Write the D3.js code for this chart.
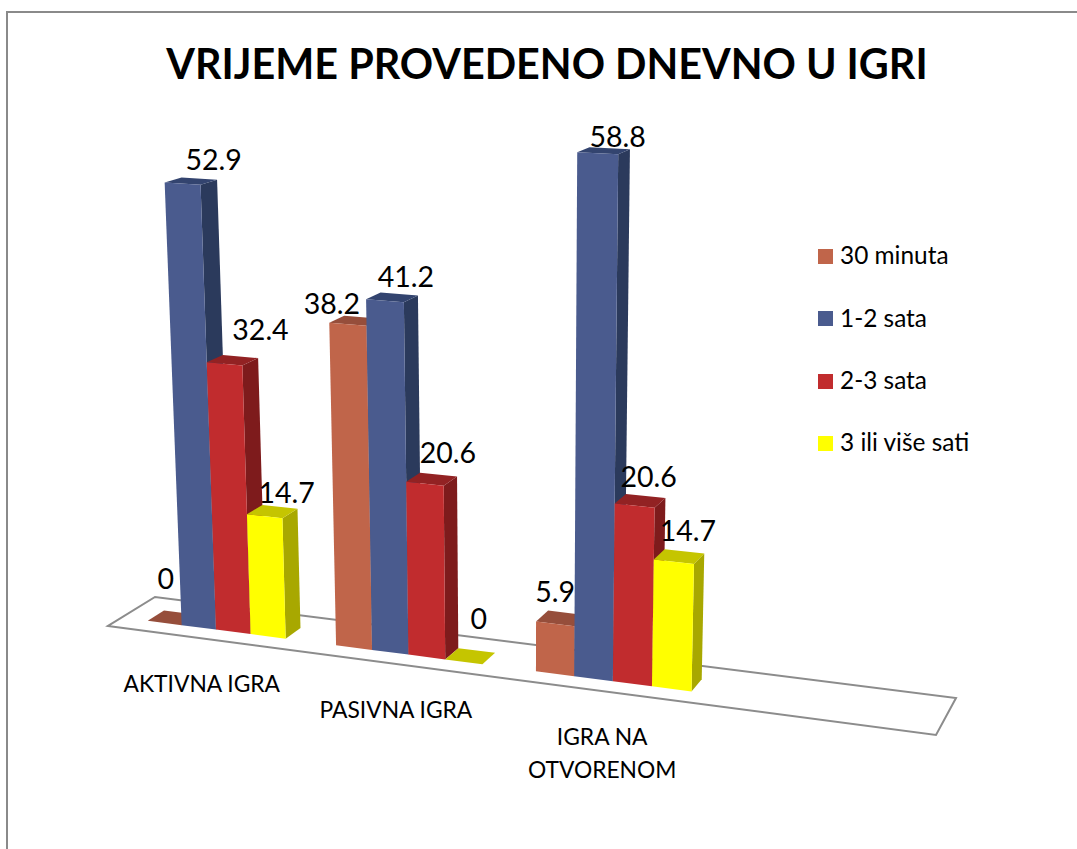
<!DOCTYPE html>
<html><head><meta charset="utf-8">
<script src="https://d3js.org/d3.v7.min.js"></script>
<style>html,body{margin:0;padding:0;background:#fff}svg{display:block}</style>
</head><body><svg id="c" width="1077" height="849"></svg>
<script>
const titleText = "VRIJEME PROVEDENO DNEVNO U IGRI";
const categories = ["AKTIVNA IGRA", "PASIVNA IGRA", "IGRA NA OTVORENOM", ""];
const seriesNames = ["30 minuta", "1-2 sata", "2-3 sata", "3 ili više sati"];
const values30min = [0, 38.2, 5.9];
const values1to2 = [52.9, 41.2, 58.8];
const values2to3 = [32.4, 20.6, 20.6];
const values3plus = [14.7, 0, 14.7];
const seriesValues = [values30min, values1to2, values2to3, values3plus];

const frontColors = ["#C0654A", "#4A5B8E", "#C12C2E", "#FFFF00"];
const sideColors = ["#8E4B39", "#2B3A5C", "#7E1B1C", "#A8A800"];
const topColors = ["#964E3B", "#33446F", "#922223", "#C5C500"];
const labelFont = "Lato, 'Open Sans', sans-serif";

const svg = d3.select("#c");
svg.append("rect").attr("x", 7).attr("y", 12).attr("width", 1200).attr("height", 1000)
  .attr("fill", "#fff").attr("stroke", "#8a8a8a").attr("stroke-width", 2);

// floor quadrilateral -> perspective projection
const P00 = [108, 626], P10 = [936, 735], P11 = [956, 698], P01 = [155, 597];
const den = (P10[0]-P11[0])*(P01[1]-P11[1]) - (P01[0]-P11[0])*(P10[1]-P11[1]);
const sx = P00[0]-P10[0]+P11[0]-P01[0], sy = P00[1]-P10[1]+P11[1]-P01[1];
const g = (sx*(P01[1]-P11[1]) - (P01[0]-P11[0])*sy)/den;
const h = ((P10[0]-P11[0])*sy - sx*(P10[1]-P11[1]))/den;
const vanish = [523, 9500], persp = -0.000899;
function proj(u, v, val) {
  const w = 1 + g*u + h*v;
  const X = P00[0] + (P10[0]-P00[0]+g*P10[0])*u + (P01[0]-P00[0]+h*P01[0])*v;
  const Y = P00[1] + (P10[1]-P00[1]+g*P10[1])*u + (P01[1]-P00[1]+h*P01[1])*v;
  const k = persp*val;
  return [(X + k*vanish[0])/(w+k), (Y + k*vanish[1])/(w+k)];
}
const xGroup = d3.scaleBand().domain(categories).range([0, 1]);
const xBar = d3.scaleBand().domain(d3.range(seriesNames.length)).range([0, xGroup.bandwidth()]).paddingOuter(0.71).paddingInner(0).align(0.54);
const yVal = d3.scaleLinear().domain([0, 70]).range([0, 70]);
const vFront = 0.29, vBack = 0.64;
const line = d3.line();
const poly = pts => line(pts) + "Z";

const G = svg.append("g");
G.append("path").attr("d", poly([[0,0],[1,0],[1,1],[0,1]].map(c => proj(c[0], c[1], 0))))
  .attr("fill", "#fff").attr("stroke", "#8c8c8c").attr("stroke-width", 2).attr("stroke-linejoin", "miter");

const labelNudge = [
  [[1,-41],[31,-21],[36,-31],[22,-20]],
  [[-16,-17],[21,-21],[23,-28],[15,-40]],
  [[0,-29],[20,-13],[14,-26],[14,-28]]
];
const labels = [];
categories.slice(0, 3).forEach((cat, ci) => {
  seriesNames.forEach((s, si) => {
    const val = seriesValues[si][ci];
    const u0 = xGroup(cat) + xBar(si), u1 = u0 + xBar.bandwidth();
    const z = yVal(val);
    const f = (u, v, t) => proj(u, v, t);
    G.append("path").attr("class", "side").attr("fill", sideColors[si])
      .attr("d", poly([f(u1,vFront,0), f(u1,vBack,0), f(u1,vBack,z), f(u1,vFront,z)]));
    G.append("path").attr("class", "top").attr("fill", topColors[si])
      .attr("d", poly([f(u0,vFront,z), f(u1,vFront,z), f(u1,vBack,z), f(u0,vBack,z)]));
    G.append("path").attr("class", "front").attr("fill", frontColors[si])
      .attr("d", poly([f(u0,vFront,0), f(u1,vFront,0), f(u1,vFront,z), f(u0,vFront,z)]));
    const c = f((u0+u1)/2, vFront, z);
    labels.push({t: String(val), x: c[0]+labelNudge[ci][si][0], y: c[1]+labelNudge[ci][si][1]});
  });
});
svg.selectAll(".dl").data(labels).enter().append("text").attr("class", "dl")
  .attr("x", d => d.x).attr("y", d => d.y).attr("text-anchor", "middle").attr("dominant-baseline", "middle")
  .attr("font-family", labelFont).attr("font-size", 28.5).attr("fill", "#000").text(d => d.t);

// title
svg.append("text").attr("x", 547).attr("y", 79).attr("text-anchor", "middle")
  .attr("font-family", labelFont).attr("font-weight", 700).attr("font-size", 41.3).attr("fill", "#000").text(titleText);

// category labels
const catLines = [["AKTIVNA IGRA"], ["PASIVNA IGRA"], ["IGRA NA", "OTVORENOM"]];
catLines.forEach((ls, i) => {
  const p = proj(xGroup(categories[i]) + xGroup.bandwidth()/2, 0, 0);
  ls.forEach((l, j) => svg.append("text").attr("class", "cat").attr("x", p[0]+1).attr("y", p[1]+48+j*33)
    .attr("text-anchor", "middle").attr("dominant-baseline", "middle")
    .attr("font-family", labelFont).attr("font-size", 22.8).attr("fill", "#000").text(l));
});

// legend
const legY = d3.scalePoint().domain(seriesNames).range([257, 444]);
seriesNames.forEach((s, i) => {
  svg.append("rect").attr("x", 818).attr("y", Math.round(legY(s)-8)).attr("width", 15).attr("height", 15).attr("fill", frontColors[i]);
  svg.append("text").attr("x", 840).attr("y", legY(s)+1).attr("dominant-baseline", "middle")
    .attr("font-family", labelFont).attr("font-size", 24.4).attr("fill", "#000").text(s);
});
</script></body></html>
